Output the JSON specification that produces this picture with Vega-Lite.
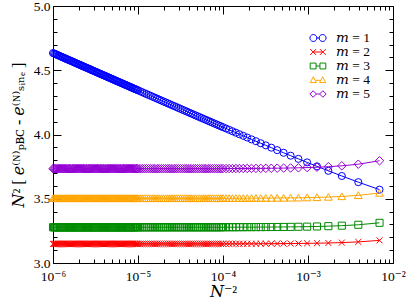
{
"$schema": "https://vega.github.io/schema/vega-lite/v6.json",
"width": 340, "height": 257,
"autosize": {"type": "none"},
"padding": {"left": 53, "top": 6, "right": 14, "bottom": 45},
"background": "white",
"config": {
 "view": {"stroke": "black", "strokeWidth": 1},
 "font": "Liberation Serif, DejaVu Serif, serif",
 "axis": {"grid": false, "domain": false, "tickColor": "black", "tickWidth": 1, "labelColor": "black", "titleColor": "black", "labelFont": "Liberation Serif, DejaVu Serif, serif", "titleFont": "Liberation Serif, DejaVu Serif, serif", "labelFontSize": 13.5, "titleFontSize": 16, "titleFontWeight": "normal", "labelFlush": false, "labelOverlap": false}
},
"datasets": {"pts": [
{"m":"m = 1","x":0.0069444,"y":3.5709},{"m":"m = 1","x":0.0039063,"y":3.6292},{"m":"m = 1","x":0.0025,"y":3.677},{"m":"m = 1","x":0.0017361,"y":3.7174},{"m":"m = 1","x":0.0012755,"y":3.7523},{"m":"m = 1","x":0.00097656,"y":3.783},{"m":"m = 1","x":0.0007716,"y":3.8104},{"m":"m = 1","x":0.000625,"y":3.8351},{"m":"m = 1","x":0.00051653,"y":3.8577},{"m":"m = 1","x":0.00043403,"y":3.8784},{"m":"m = 1","x":0.00036982,"y":3.8976},{"m":"m = 1","x":0.00031888,"y":3.9154},{"m":"m = 1","x":0.00027778,"y":3.932},{"m":"m = 1","x":0.00024414,"y":3.9477},{"m":"m = 1","x":0.00021626,"y":3.9624},{"m":"m = 1","x":0.0001929,"y":3.9763},{"m":"m = 1","x":0.00017313,"y":3.9895},{"m":"m = 1","x":0.00015625,"y":4.002},{"m":"m = 1","x":0.00014172,"y":4.014},{"m":"m = 1","x":0.00012913,"y":4.0254},{"m":"m = 1","x":0.00011815,"y":4.0363},{"m":"m = 1","x":0.00010851,"y":4.0467},{"m":"m = 1","x":0.0001,"y":4.0568},
{"m":"m = 1","x":9.4406e-5,"y":4.0639},{"m":"m = 1","x":8.9125e-5,"y":4.071},{"m":"m = 1","x":8.414e-5,"y":4.0781},{"m":"m = 1","x":7.9433e-5,"y":4.0852},{"m":"m = 1","x":7.4989e-5,"y":4.0923},{"m":"m = 1","x":7.0795e-5,"y":4.0994},{"m":"m = 1","x":6.6834e-5,"y":4.1066},{"m":"m = 1","x":6.3096e-5,"y":4.1137},{"m":"m = 1","x":5.9566e-5,"y":4.1208},{"m":"m = 1","x":5.6234e-5,"y":4.128},{"m":"m = 1","x":5.3088e-5,"y":4.1351},{"m":"m = 1","x":5.0119e-5,"y":4.1423},{"m":"m = 1","x":4.7315e-5,"y":4.1494},{"m":"m = 1","x":4.4668e-5,"y":4.1566},{"m":"m = 1","x":4.217e-5,"y":4.1637},{"m":"m = 1","x":3.9811e-5,"y":4.1709},{"m":"m = 1","x":3.7584e-5,"y":4.1781},{"m":"m = 1","x":3.5481e-5,"y":4.1852},{"m":"m = 1","x":3.3497e-5,"y":4.1924},{"m":"m = 1","x":3.1623e-5,"y":4.1996},{"m":"m = 1","x":2.9854e-5,"y":4.2068},{"m":"m = 1","x":2.8184e-5,"y":4.214},{"m":"m = 1","x":2.6607e-5,"y":4.2211},{"m":"m = 1","x":2.5119e-5,"y":4.2283},{"m":"m = 1","x":2.3714e-5,"y":4.2355},{"m":"m = 1","x":2.2387e-5,"y":4.2427},{"m":"m = 1","x":2.1135e-5,"y":4.2499},{"m":"m = 1","x":1.9953e-5,"y":4.2571},{"m":"m = 1","x":1.8836e-5,"y":4.2643},{"m":"m = 1","x":1.7783e-5,"y":4.2715},{"m":"m = 1","x":1.6788e-5,"y":4.2787},{"m":"m = 1","x":1.5849e-5,"y":4.2859},{"m":"m = 1","x":1.4962e-5,"y":4.2931},{"m":"m = 1","x":1.4125e-5,"y":4.3004},{"m":"m = 1","x":1.3335e-5,"y":4.3076},{"m":"m = 1","x":1.2589e-5,"y":4.3148},{"m":"m = 1","x":1.1885e-5,"y":4.322},{"m":"m = 1","x":1.122e-5,"y":4.3292},{"m":"m = 1","x":1.0593e-5,"y":4.3365},
{"m":"m = 1","x":1e-5,"y":4.3438},{"m":"m = 1","x":9.7163e-6,"y":4.3474},{"m":"m = 1","x":9.4406e-6,"y":4.351},{"m":"m = 1","x":9.1728e-6,"y":4.3546},{"m":"m = 1","x":8.9125e-6,"y":4.3582},{"m":"m = 1","x":8.6597e-6,"y":4.3618},{"m":"m = 1","x":8.414e-6,"y":4.3654},{"m":"m = 1","x":8.1753e-6,"y":4.3691},{"m":"m = 1","x":7.9433e-6,"y":4.3727},{"m":"m = 1","x":7.7179e-6,"y":4.3763},{"m":"m = 1","x":7.4989e-6,"y":4.3799},{"m":"m = 1","x":7.2862e-6,"y":4.3835},{"m":"m = 1","x":7.0795e-6,"y":4.3871},{"m":"m = 1","x":6.8786e-6,"y":4.3908},{"m":"m = 1","x":6.6834e-6,"y":4.3944},{"m":"m = 1","x":6.4938e-6,"y":4.398},{"m":"m = 1","x":6.3096e-6,"y":4.4016},{"m":"m = 1","x":6.1305e-6,"y":4.4052},{"m":"m = 1","x":5.9566e-6,"y":4.4089},{"m":"m = 1","x":5.7876e-6,"y":4.4125},{"m":"m = 1","x":5.6234e-6,"y":4.4161},{"m":"m = 1","x":5.4638e-6,"y":4.4197},{"m":"m = 1","x":5.3088e-6,"y":4.4234},{"m":"m = 1","x":5.1582e-6,"y":4.427},{"m":"m = 1","x":5.0119e-6,"y":4.4306},{"m":"m = 1","x":4.8697e-6,"y":4.4342},{"m":"m = 1","x":4.7315e-6,"y":4.4379},{"m":"m = 1","x":4.5972e-6,"y":4.4415},{"m":"m = 1","x":4.4668e-6,"y":4.4451},{"m":"m = 1","x":4.3401e-6,"y":4.4487},{"m":"m = 1","x":4.217e-6,"y":4.4524},{"m":"m = 1","x":4.0973e-6,"y":4.456},{"m":"m = 1","x":3.9811e-6,"y":4.4596},{"m":"m = 1","x":3.8681e-6,"y":4.4632},{"m":"m = 1","x":3.7584e-6,"y":4.4669},{"m":"m = 1","x":3.6517e-6,"y":4.4705},{"m":"m = 1","x":3.5481e-6,"y":4.4741},{"m":"m = 1","x":3.4475e-6,"y":4.4777},{"m":"m = 1","x":3.3497e-6,"y":4.4814},{"m":"m = 1","x":3.2546e-6,"y":4.485},{"m":"m = 1","x":3.1623e-6,"y":4.4886},{"m":"m = 1","x":3.0726e-6,"y":4.4922},{"m":"m = 1","x":2.9854e-6,"y":4.4959},{"m":"m = 1","x":2.9007e-6,"y":4.4995},{"m":"m = 1","x":2.8184e-6,"y":4.5031},{"m":"m = 1","x":2.7384e-6,"y":4.5068},{"m":"m = 1","x":2.6607e-6,"y":4.5104},{"m":"m = 1","x":2.5852e-6,"y":4.514},{"m":"m = 1","x":2.5119e-6,"y":4.5176},{"m":"m = 1","x":2.4406e-6,"y":4.5213},{"m":"m = 1","x":2.3714e-6,"y":4.5249},{"m":"m = 1","x":2.3041e-6,"y":4.5285},{"m":"m = 1","x":2.2387e-6,"y":4.5322},{"m":"m = 1","x":2.1752e-6,"y":4.5358},{"m":"m = 1","x":2.1135e-6,"y":4.5394},{"m":"m = 1","x":2.0535e-6,"y":4.5431},{"m":"m = 1","x":1.9953e-6,"y":4.5467},{"m":"m = 1","x":1.9386e-6,"y":4.5503},{"m":"m = 1","x":1.8836e-6,"y":4.554},{"m":"m = 1","x":1.8302e-6,"y":4.5576},{"m":"m = 1","x":1.7783e-6,"y":4.5612},{"m":"m = 1","x":1.7278e-6,"y":4.5649},{"m":"m = 1","x":1.6788e-6,"y":4.5685},{"m":"m = 1","x":1.6312e-6,"y":4.5721},{"m":"m = 1","x":1.5849e-6,"y":4.5758},{"m":"m = 1","x":1.5399e-6,"y":4.5794},{"m":"m = 1","x":1.4962e-6,"y":4.583},{"m":"m = 1","x":1.4538e-6,"y":4.5867},{"m":"m = 1","x":1.4125e-6,"y":4.5903},{"m":"m = 1","x":1.3725e-6,"y":4.5939},{"m":"m = 1","x":1.3335e-6,"y":4.5976},{"m":"m = 1","x":1.2957e-6,"y":4.6012},{"m":"m = 1","x":1.2589e-6,"y":4.6048},{"m":"m = 1","x":1.2232e-6,"y":4.6085},{"m":"m = 1","x":1.1885e-6,"y":4.6121},{"m":"m = 1","x":1.1548e-6,"y":4.6157},{"m":"m = 1","x":1.122e-6,"y":4.6194},{"m":"m = 1","x":1.0902e-6,"y":4.623},{"m":"m = 1","x":1.0593e-6,"y":4.6266},{"m":"m = 1","x":1.0292e-6,"y":4.6303},{"m":"m = 1","x":1e-6,"y":4.6339},
{"m":"m = 2","x":0.0069444,"y":3.1761},{"m":"m = 2","x":0.0039063,"y":3.1642},{"m":"m = 2","x":0.0025,"y":3.1588},{"m":"m = 2","x":0.0017361,"y":3.1558},{"m":"m = 2","x":0.0012755,"y":3.154},{"m":"m = 2","x":0.00097656,"y":3.1528},{"m":"m = 2","x":0.0007716,"y":3.152},{"m":"m = 2","x":0.000625,"y":3.1514},{"m":"m = 2","x":0.00051653,"y":3.151},{"m":"m = 2","x":0.00043403,"y":3.1507},{"m":"m = 2","x":0.00036982,"y":3.1504},{"m":"m = 2","x":0.00031888,"y":3.1502},{"m":"m = 2","x":0.00027778,"y":3.1501},{"m":"m = 2","x":0.00024414,"y":3.15},{"m":"m = 2","x":0.00021626,"y":3.1498},{"m":"m = 2","x":0.0001929,"y":3.1498},{"m":"m = 2","x":0.00017313,"y":3.1497},{"m":"m = 2","x":0.00015625,"y":3.1496},{"m":"m = 2","x":0.00014172,"y":3.1496},{"m":"m = 2","x":0.00012913,"y":3.1495},{"m":"m = 2","x":0.00011815,"y":3.1495},{"m":"m = 2","x":0.00010851,"y":3.1494},{"m":"m = 2","x":0.0001,"y":3.1494},
{"m":"m = 2","x":9.4406e-5,"y":3.149},{"m":"m = 2","x":8.9125e-5,"y":3.149},{"m":"m = 2","x":8.414e-5,"y":3.149},{"m":"m = 2","x":7.9433e-5,"y":3.149},{"m":"m = 2","x":7.4989e-5,"y":3.149},{"m":"m = 2","x":7.0795e-5,"y":3.149},{"m":"m = 2","x":6.6834e-5,"y":3.149},{"m":"m = 2","x":6.3096e-5,"y":3.149},{"m":"m = 2","x":5.9566e-5,"y":3.149},{"m":"m = 2","x":5.6234e-5,"y":3.149},{"m":"m = 2","x":5.3088e-5,"y":3.149},{"m":"m = 2","x":5.0119e-5,"y":3.149},{"m":"m = 2","x":4.7315e-5,"y":3.149},{"m":"m = 2","x":4.4668e-5,"y":3.149},{"m":"m = 2","x":4.217e-5,"y":3.149},{"m":"m = 2","x":3.9811e-5,"y":3.149},{"m":"m = 2","x":3.7584e-5,"y":3.149},{"m":"m = 2","x":3.5481e-5,"y":3.149},{"m":"m = 2","x":3.3497e-5,"y":3.149},{"m":"m = 2","x":3.1623e-5,"y":3.149},{"m":"m = 2","x":2.9854e-5,"y":3.149},{"m":"m = 2","x":2.8184e-5,"y":3.149},{"m":"m = 2","x":2.6607e-5,"y":3.149},{"m":"m = 2","x":2.5119e-5,"y":3.149},{"m":"m = 2","x":2.3714e-5,"y":3.149},{"m":"m = 2","x":2.2387e-5,"y":3.149},{"m":"m = 2","x":2.1135e-5,"y":3.149},{"m":"m = 2","x":1.9953e-5,"y":3.149},{"m":"m = 2","x":1.8836e-5,"y":3.149},{"m":"m = 2","x":1.7783e-5,"y":3.149},{"m":"m = 2","x":1.6788e-5,"y":3.149},{"m":"m = 2","x":1.5849e-5,"y":3.149},{"m":"m = 2","x":1.4962e-5,"y":3.149},{"m":"m = 2","x":1.4125e-5,"y":3.149},{"m":"m = 2","x":1.3335e-5,"y":3.149},{"m":"m = 2","x":1.2589e-5,"y":3.149},{"m":"m = 2","x":1.1885e-5,"y":3.149},{"m":"m = 2","x":1.122e-5,"y":3.149},{"m":"m = 2","x":1.0593e-5,"y":3.149},
{"m":"m = 2","x":1e-5,"y":3.149},{"m":"m = 2","x":9.7163e-6,"y":3.149},{"m":"m = 2","x":9.4406e-6,"y":3.149},{"m":"m = 2","x":9.1728e-6,"y":3.149},{"m":"m = 2","x":8.9125e-6,"y":3.149},{"m":"m = 2","x":8.6597e-6,"y":3.149},{"m":"m = 2","x":8.414e-6,"y":3.149},{"m":"m = 2","x":8.1753e-6,"y":3.149},{"m":"m = 2","x":7.9433e-6,"y":3.149},{"m":"m = 2","x":7.7179e-6,"y":3.149},{"m":"m = 2","x":7.4989e-6,"y":3.149},{"m":"m = 2","x":7.2862e-6,"y":3.149},{"m":"m = 2","x":7.0795e-6,"y":3.149},{"m":"m = 2","x":6.8786e-6,"y":3.149},{"m":"m = 2","x":6.6834e-6,"y":3.149},{"m":"m = 2","x":6.4938e-6,"y":3.149},{"m":"m = 2","x":6.3096e-6,"y":3.149},{"m":"m = 2","x":6.1305e-6,"y":3.149},{"m":"m = 2","x":5.9566e-6,"y":3.149},{"m":"m = 2","x":5.7876e-6,"y":3.149},{"m":"m = 2","x":5.6234e-6,"y":3.149},{"m":"m = 2","x":5.4638e-6,"y":3.149},{"m":"m = 2","x":5.3088e-6,"y":3.149},{"m":"m = 2","x":5.1582e-6,"y":3.149},{"m":"m = 2","x":5.0119e-6,"y":3.149},{"m":"m = 2","x":4.8697e-6,"y":3.149},{"m":"m = 2","x":4.7315e-6,"y":3.149},{"m":"m = 2","x":4.5972e-6,"y":3.149},{"m":"m = 2","x":4.4668e-6,"y":3.149},{"m":"m = 2","x":4.3401e-6,"y":3.149},{"m":"m = 2","x":4.217e-6,"y":3.149},{"m":"m = 2","x":4.0973e-6,"y":3.149},{"m":"m = 2","x":3.9811e-6,"y":3.149},{"m":"m = 2","x":3.8681e-6,"y":3.149},{"m":"m = 2","x":3.7584e-6,"y":3.149},{"m":"m = 2","x":3.6517e-6,"y":3.149},{"m":"m = 2","x":3.5481e-6,"y":3.149},{"m":"m = 2","x":3.4475e-6,"y":3.149},{"m":"m = 2","x":3.3497e-6,"y":3.149},{"m":"m = 2","x":3.2546e-6,"y":3.149},{"m":"m = 2","x":3.1623e-6,"y":3.149},{"m":"m = 2","x":3.0726e-6,"y":3.149},{"m":"m = 2","x":2.9854e-6,"y":3.149},{"m":"m = 2","x":2.9007e-6,"y":3.149},{"m":"m = 2","x":2.8184e-6,"y":3.149},{"m":"m = 2","x":2.7384e-6,"y":3.149},{"m":"m = 2","x":2.6607e-6,"y":3.149},{"m":"m = 2","x":2.5852e-6,"y":3.149},{"m":"m = 2","x":2.5119e-6,"y":3.149},{"m":"m = 2","x":2.4406e-6,"y":3.149},{"m":"m = 2","x":2.3714e-6,"y":3.149},{"m":"m = 2","x":2.3041e-6,"y":3.149},{"m":"m = 2","x":2.2387e-6,"y":3.149},{"m":"m = 2","x":2.1752e-6,"y":3.149},{"m":"m = 2","x":2.1135e-6,"y":3.149},{"m":"m = 2","x":2.0535e-6,"y":3.149},{"m":"m = 2","x":1.9953e-6,"y":3.149},{"m":"m = 2","x":1.9386e-6,"y":3.149},{"m":"m = 2","x":1.8836e-6,"y":3.149},{"m":"m = 2","x":1.8302e-6,"y":3.149},{"m":"m = 2","x":1.7783e-6,"y":3.149},{"m":"m = 2","x":1.7278e-6,"y":3.149},{"m":"m = 2","x":1.6788e-6,"y":3.149},{"m":"m = 2","x":1.6312e-6,"y":3.149},{"m":"m = 2","x":1.5849e-6,"y":3.149},{"m":"m = 2","x":1.5399e-6,"y":3.149},{"m":"m = 2","x":1.4962e-6,"y":3.149},{"m":"m = 2","x":1.4538e-6,"y":3.149},{"m":"m = 2","x":1.4125e-6,"y":3.149},{"m":"m = 2","x":1.3725e-6,"y":3.149},{"m":"m = 2","x":1.3335e-6,"y":3.149},{"m":"m = 2","x":1.2957e-6,"y":3.149},{"m":"m = 2","x":1.2589e-6,"y":3.149},{"m":"m = 2","x":1.2232e-6,"y":3.149},{"m":"m = 2","x":1.1885e-6,"y":3.149},{"m":"m = 2","x":1.1548e-6,"y":3.149},{"m":"m = 2","x":1.122e-6,"y":3.149},{"m":"m = 2","x":1.0902e-6,"y":3.149},{"m":"m = 2","x":1.0593e-6,"y":3.149},{"m":"m = 2","x":1.0292e-6,"y":3.149},{"m":"m = 2","x":1e-6,"y":3.149},
{"m":"m = 3","x":0.0069444,"y":3.3127},{"m":"m = 3","x":0.0039063,"y":3.2975},{"m":"m = 3","x":0.0025,"y":3.2905},{"m":"m = 3","x":0.0017361,"y":3.2867},{"m":"m = 3","x":0.0012755,"y":3.2844},{"m":"m = 3","x":0.00097656,"y":3.2829},{"m":"m = 3","x":0.0007716,"y":3.2819},{"m":"m = 3","x":0.000625,"y":3.2811},{"m":"m = 3","x":0.00051653,"y":3.2806},{"m":"m = 3","x":0.00043403,"y":3.2802},{"m":"m = 3","x":0.00036982,"y":3.2799},{"m":"m = 3","x":0.00031888,"y":3.2796},{"m":"m = 3","x":0.00027778,"y":3.2794},{"m":"m = 3","x":0.00024414,"y":3.2792},{"m":"m = 3","x":0.00021626,"y":3.2791},{"m":"m = 3","x":0.0001929,"y":3.279},{"m":"m = 3","x":0.00017313,"y":3.2789},{"m":"m = 3","x":0.00015625,"y":3.2788},{"m":"m = 3","x":0.00014172,"y":3.2787},{"m":"m = 3","x":0.00012913,"y":3.2786},{"m":"m = 3","x":0.00011815,"y":3.2786},{"m":"m = 3","x":0.00010851,"y":3.2785},{"m":"m = 3","x":0.0001,"y":3.2785},
{"m":"m = 3","x":9.4406e-5,"y":3.278},{"m":"m = 3","x":8.9125e-5,"y":3.278},{"m":"m = 3","x":8.414e-5,"y":3.278},{"m":"m = 3","x":7.9433e-5,"y":3.278},{"m":"m = 3","x":7.4989e-5,"y":3.278},{"m":"m = 3","x":7.0795e-5,"y":3.278},{"m":"m = 3","x":6.6834e-5,"y":3.278},{"m":"m = 3","x":6.3096e-5,"y":3.278},{"m":"m = 3","x":5.9566e-5,"y":3.278},{"m":"m = 3","x":5.6234e-5,"y":3.278},{"m":"m = 3","x":5.3088e-5,"y":3.278},{"m":"m = 3","x":5.0119e-5,"y":3.278},{"m":"m = 3","x":4.7315e-5,"y":3.278},{"m":"m = 3","x":4.4668e-5,"y":3.278},{"m":"m = 3","x":4.217e-5,"y":3.278},{"m":"m = 3","x":3.9811e-5,"y":3.278},{"m":"m = 3","x":3.7584e-5,"y":3.278},{"m":"m = 3","x":3.5481e-5,"y":3.278},{"m":"m = 3","x":3.3497e-5,"y":3.278},{"m":"m = 3","x":3.1623e-5,"y":3.278},{"m":"m = 3","x":2.9854e-5,"y":3.278},{"m":"m = 3","x":2.8184e-5,"y":3.278},{"m":"m = 3","x":2.6607e-5,"y":3.278},{"m":"m = 3","x":2.5119e-5,"y":3.278},{"m":"m = 3","x":2.3714e-5,"y":3.278},{"m":"m = 3","x":2.2387e-5,"y":3.278},{"m":"m = 3","x":2.1135e-5,"y":3.278},{"m":"m = 3","x":1.9953e-5,"y":3.278},{"m":"m = 3","x":1.8836e-5,"y":3.278},{"m":"m = 3","x":1.7783e-5,"y":3.278},{"m":"m = 3","x":1.6788e-5,"y":3.278},{"m":"m = 3","x":1.5849e-5,"y":3.278},{"m":"m = 3","x":1.4962e-5,"y":3.278},{"m":"m = 3","x":1.4125e-5,"y":3.278},{"m":"m = 3","x":1.3335e-5,"y":3.278},{"m":"m = 3","x":1.2589e-5,"y":3.278},{"m":"m = 3","x":1.1885e-5,"y":3.278},{"m":"m = 3","x":1.122e-5,"y":3.278},{"m":"m = 3","x":1.0593e-5,"y":3.278},
{"m":"m = 3","x":1e-5,"y":3.278},{"m":"m = 3","x":9.7163e-6,"y":3.278},{"m":"m = 3","x":9.4406e-6,"y":3.278},{"m":"m = 3","x":9.1728e-6,"y":3.278},{"m":"m = 3","x":8.9125e-6,"y":3.278},{"m":"m = 3","x":8.6597e-6,"y":3.278},{"m":"m = 3","x":8.414e-6,"y":3.278},{"m":"m = 3","x":8.1753e-6,"y":3.278},{"m":"m = 3","x":7.9433e-6,"y":3.278},{"m":"m = 3","x":7.7179e-6,"y":3.278},{"m":"m = 3","x":7.4989e-6,"y":3.278},{"m":"m = 3","x":7.2862e-6,"y":3.278},{"m":"m = 3","x":7.0795e-6,"y":3.278},{"m":"m = 3","x":6.8786e-6,"y":3.278},{"m":"m = 3","x":6.6834e-6,"y":3.278},{"m":"m = 3","x":6.4938e-6,"y":3.278},{"m":"m = 3","x":6.3096e-6,"y":3.278},{"m":"m = 3","x":6.1305e-6,"y":3.278},{"m":"m = 3","x":5.9566e-6,"y":3.278},{"m":"m = 3","x":5.7876e-6,"y":3.278},{"m":"m = 3","x":5.6234e-6,"y":3.278},{"m":"m = 3","x":5.4638e-6,"y":3.278},{"m":"m = 3","x":5.3088e-6,"y":3.278},{"m":"m = 3","x":5.1582e-6,"y":3.278},{"m":"m = 3","x":5.0119e-6,"y":3.278},{"m":"m = 3","x":4.8697e-6,"y":3.278},{"m":"m = 3","x":4.7315e-6,"y":3.278},{"m":"m = 3","x":4.5972e-6,"y":3.278},{"m":"m = 3","x":4.4668e-6,"y":3.278},{"m":"m = 3","x":4.3401e-6,"y":3.278},{"m":"m = 3","x":4.217e-6,"y":3.278},{"m":"m = 3","x":4.0973e-6,"y":3.278},{"m":"m = 3","x":3.9811e-6,"y":3.278},{"m":"m = 3","x":3.8681e-6,"y":3.278},{"m":"m = 3","x":3.7584e-6,"y":3.278},{"m":"m = 3","x":3.6517e-6,"y":3.278},{"m":"m = 3","x":3.5481e-6,"y":3.278},{"m":"m = 3","x":3.4475e-6,"y":3.278},{"m":"m = 3","x":3.3497e-6,"y":3.278},{"m":"m = 3","x":3.2546e-6,"y":3.278},{"m":"m = 3","x":3.1623e-6,"y":3.278},{"m":"m = 3","x":3.0726e-6,"y":3.278},{"m":"m = 3","x":2.9854e-6,"y":3.278},{"m":"m = 3","x":2.9007e-6,"y":3.278},{"m":"m = 3","x":2.8184e-6,"y":3.278},{"m":"m = 3","x":2.7384e-6,"y":3.278},{"m":"m = 3","x":2.6607e-6,"y":3.278},{"m":"m = 3","x":2.5852e-6,"y":3.278},{"m":"m = 3","x":2.5119e-6,"y":3.278},{"m":"m = 3","x":2.4406e-6,"y":3.278},{"m":"m = 3","x":2.3714e-6,"y":3.278},{"m":"m = 3","x":2.3041e-6,"y":3.278},{"m":"m = 3","x":2.2387e-6,"y":3.278},{"m":"m = 3","x":2.1752e-6,"y":3.278},{"m":"m = 3","x":2.1135e-6,"y":3.278},{"m":"m = 3","x":2.0535e-6,"y":3.278},{"m":"m = 3","x":1.9953e-6,"y":3.278},{"m":"m = 3","x":1.9386e-6,"y":3.278},{"m":"m = 3","x":1.8836e-6,"y":3.278},{"m":"m = 3","x":1.8302e-6,"y":3.278},{"m":"m = 3","x":1.7783e-6,"y":3.278},{"m":"m = 3","x":1.7278e-6,"y":3.278},{"m":"m = 3","x":1.6788e-6,"y":3.278},{"m":"m = 3","x":1.6312e-6,"y":3.278},{"m":"m = 3","x":1.5849e-6,"y":3.278},{"m":"m = 3","x":1.5399e-6,"y":3.278},{"m":"m = 3","x":1.4962e-6,"y":3.278},{"m":"m = 3","x":1.4538e-6,"y":3.278},{"m":"m = 3","x":1.4125e-6,"y":3.278},{"m":"m = 3","x":1.3725e-6,"y":3.278},{"m":"m = 3","x":1.3335e-6,"y":3.278},{"m":"m = 3","x":1.2957e-6,"y":3.278},{"m":"m = 3","x":1.2589e-6,"y":3.278},{"m":"m = 3","x":1.2232e-6,"y":3.278},{"m":"m = 3","x":1.1885e-6,"y":3.278},{"m":"m = 3","x":1.1548e-6,"y":3.278},{"m":"m = 3","x":1.122e-6,"y":3.278},{"m":"m = 3","x":1.0902e-6,"y":3.278},{"m":"m = 3","x":1.0593e-6,"y":3.278},{"m":"m = 3","x":1.0292e-6,"y":3.278},{"m":"m = 3","x":1e-6,"y":3.278},
{"m":"m = 4","x":0.0069444,"y":3.5447},{"m":"m = 4","x":0.0039063,"y":3.5264},{"m":"m = 4","x":0.0025,"y":3.518},{"m":"m = 4","x":0.0017361,"y":3.5134},{"m":"m = 4","x":0.0012755,"y":3.5107},{"m":"m = 4","x":0.00097656,"y":3.5089},{"m":"m = 4","x":0.0007716,"y":3.5076},{"m":"m = 4","x":0.000625,"y":3.5068},{"m":"m = 4","x":0.00051653,"y":3.5061},{"m":"m = 4","x":0.00043403,"y":3.5056},{"m":"m = 4","x":0.00036982,"y":3.5052},{"m":"m = 4","x":0.00031888,"y":3.5049},{"m":"m = 4","x":0.00027778,"y":3.5047},{"m":"m = 4","x":0.00024414,"y":3.5045},{"m":"m = 4","x":0.00021626,"y":3.5043},{"m":"m = 4","x":0.0001929,"y":3.5042},{"m":"m = 4","x":0.00017313,"y":3.504},{"m":"m = 4","x":0.00015625,"y":3.5039},{"m":"m = 4","x":0.00014172,"y":3.5039},{"m":"m = 4","x":0.00012913,"y":3.5038},{"m":"m = 4","x":0.00011815,"y":3.5037},{"m":"m = 4","x":0.00010851,"y":3.5037},{"m":"m = 4","x":0.0001,"y":3.5036},
{"m":"m = 4","x":9.4406e-5,"y":3.503},{"m":"m = 4","x":8.9125e-5,"y":3.503},{"m":"m = 4","x":8.414e-5,"y":3.503},{"m":"m = 4","x":7.9433e-5,"y":3.503},{"m":"m = 4","x":7.4989e-5,"y":3.503},{"m":"m = 4","x":7.0795e-5,"y":3.503},{"m":"m = 4","x":6.6834e-5,"y":3.503},{"m":"m = 4","x":6.3096e-5,"y":3.503},{"m":"m = 4","x":5.9566e-5,"y":3.503},{"m":"m = 4","x":5.6234e-5,"y":3.503},{"m":"m = 4","x":5.3088e-5,"y":3.503},{"m":"m = 4","x":5.0119e-5,"y":3.503},{"m":"m = 4","x":4.7315e-5,"y":3.503},{"m":"m = 4","x":4.4668e-5,"y":3.503},{"m":"m = 4","x":4.217e-5,"y":3.503},{"m":"m = 4","x":3.9811e-5,"y":3.503},{"m":"m = 4","x":3.7584e-5,"y":3.503},{"m":"m = 4","x":3.5481e-5,"y":3.503},{"m":"m = 4","x":3.3497e-5,"y":3.503},{"m":"m = 4","x":3.1623e-5,"y":3.503},{"m":"m = 4","x":2.9854e-5,"y":3.503},{"m":"m = 4","x":2.8184e-5,"y":3.503},{"m":"m = 4","x":2.6607e-5,"y":3.503},{"m":"m = 4","x":2.5119e-5,"y":3.503},{"m":"m = 4","x":2.3714e-5,"y":3.503},{"m":"m = 4","x":2.2387e-5,"y":3.503},{"m":"m = 4","x":2.1135e-5,"y":3.503},{"m":"m = 4","x":1.9953e-5,"y":3.503},{"m":"m = 4","x":1.8836e-5,"y":3.503},{"m":"m = 4","x":1.7783e-5,"y":3.503},{"m":"m = 4","x":1.6788e-5,"y":3.503},{"m":"m = 4","x":1.5849e-5,"y":3.503},{"m":"m = 4","x":1.4962e-5,"y":3.503},{"m":"m = 4","x":1.4125e-5,"y":3.503},{"m":"m = 4","x":1.3335e-5,"y":3.503},{"m":"m = 4","x":1.2589e-5,"y":3.503},{"m":"m = 4","x":1.1885e-5,"y":3.503},{"m":"m = 4","x":1.122e-5,"y":3.503},{"m":"m = 4","x":1.0593e-5,"y":3.503},
{"m":"m = 4","x":1e-5,"y":3.503},{"m":"m = 4","x":9.7163e-6,"y":3.503},{"m":"m = 4","x":9.4406e-6,"y":3.503},{"m":"m = 4","x":9.1728e-6,"y":3.503},{"m":"m = 4","x":8.9125e-6,"y":3.503},{"m":"m = 4","x":8.6597e-6,"y":3.503},{"m":"m = 4","x":8.414e-6,"y":3.503},{"m":"m = 4","x":8.1753e-6,"y":3.503},{"m":"m = 4","x":7.9433e-6,"y":3.503},{"m":"m = 4","x":7.7179e-6,"y":3.503},{"m":"m = 4","x":7.4989e-6,"y":3.503},{"m":"m = 4","x":7.2862e-6,"y":3.503},{"m":"m = 4","x":7.0795e-6,"y":3.503},{"m":"m = 4","x":6.8786e-6,"y":3.503},{"m":"m = 4","x":6.6834e-6,"y":3.503},{"m":"m = 4","x":6.4938e-6,"y":3.503},{"m":"m = 4","x":6.3096e-6,"y":3.503},{"m":"m = 4","x":6.1305e-6,"y":3.503},{"m":"m = 4","x":5.9566e-6,"y":3.503},{"m":"m = 4","x":5.7876e-6,"y":3.503},{"m":"m = 4","x":5.6234e-6,"y":3.503},{"m":"m = 4","x":5.4638e-6,"y":3.503},{"m":"m = 4","x":5.3088e-6,"y":3.503},{"m":"m = 4","x":5.1582e-6,"y":3.503},{"m":"m = 4","x":5.0119e-6,"y":3.503},{"m":"m = 4","x":4.8697e-6,"y":3.503},{"m":"m = 4","x":4.7315e-6,"y":3.503},{"m":"m = 4","x":4.5972e-6,"y":3.503},{"m":"m = 4","x":4.4668e-6,"y":3.503},{"m":"m = 4","x":4.3401e-6,"y":3.503},{"m":"m = 4","x":4.217e-6,"y":3.503},{"m":"m = 4","x":4.0973e-6,"y":3.503},{"m":"m = 4","x":3.9811e-6,"y":3.503},{"m":"m = 4","x":3.8681e-6,"y":3.503},{"m":"m = 4","x":3.7584e-6,"y":3.503},{"m":"m = 4","x":3.6517e-6,"y":3.503},{"m":"m = 4","x":3.5481e-6,"y":3.503},{"m":"m = 4","x":3.4475e-6,"y":3.503},{"m":"m = 4","x":3.3497e-6,"y":3.503},{"m":"m = 4","x":3.2546e-6,"y":3.503},{"m":"m = 4","x":3.1623e-6,"y":3.503},{"m":"m = 4","x":3.0726e-6,"y":3.503},{"m":"m = 4","x":2.9854e-6,"y":3.503},{"m":"m = 4","x":2.9007e-6,"y":3.503},{"m":"m = 4","x":2.8184e-6,"y":3.503},{"m":"m = 4","x":2.7384e-6,"y":3.503},{"m":"m = 4","x":2.6607e-6,"y":3.503},{"m":"m = 4","x":2.5852e-6,"y":3.503},{"m":"m = 4","x":2.5119e-6,"y":3.503},{"m":"m = 4","x":2.4406e-6,"y":3.503},{"m":"m = 4","x":2.3714e-6,"y":3.503},{"m":"m = 4","x":2.3041e-6,"y":3.503},{"m":"m = 4","x":2.2387e-6,"y":3.503},{"m":"m = 4","x":2.1752e-6,"y":3.503},{"m":"m = 4","x":2.1135e-6,"y":3.503},{"m":"m = 4","x":2.0535e-6,"y":3.503},{"m":"m = 4","x":1.9953e-6,"y":3.503},{"m":"m = 4","x":1.9386e-6,"y":3.503},{"m":"m = 4","x":1.8836e-6,"y":3.503},{"m":"m = 4","x":1.8302e-6,"y":3.503},{"m":"m = 4","x":1.7783e-6,"y":3.503},{"m":"m = 4","x":1.7278e-6,"y":3.503},{"m":"m = 4","x":1.6788e-6,"y":3.503},{"m":"m = 4","x":1.6312e-6,"y":3.503},{"m":"m = 4","x":1.5849e-6,"y":3.503},{"m":"m = 4","x":1.5399e-6,"y":3.503},{"m":"m = 4","x":1.4962e-6,"y":3.503},{"m":"m = 4","x":1.4538e-6,"y":3.503},{"m":"m = 4","x":1.4125e-6,"y":3.503},{"m":"m = 4","x":1.3725e-6,"y":3.503},{"m":"m = 4","x":1.3335e-6,"y":3.503},{"m":"m = 4","x":1.2957e-6,"y":3.503},{"m":"m = 4","x":1.2589e-6,"y":3.503},{"m":"m = 4","x":1.2232e-6,"y":3.503},{"m":"m = 4","x":1.1885e-6,"y":3.503},{"m":"m = 4","x":1.1548e-6,"y":3.503},{"m":"m = 4","x":1.122e-6,"y":3.503},{"m":"m = 4","x":1.0902e-6,"y":3.503},{"m":"m = 4","x":1.0593e-6,"y":3.503},{"m":"m = 4","x":1.0292e-6,"y":3.503},{"m":"m = 4","x":1e-6,"y":3.503},
{"m":"m = 5","x":0.0069444,"y":3.7958},{"m":"m = 5","x":0.0039063,"y":3.7688},{"m":"m = 5","x":0.0025,"y":3.7563},{"m":"m = 5","x":0.0017361,"y":3.7495},{"m":"m = 5","x":0.0012755,"y":3.7454},{"m":"m = 5","x":0.00097656,"y":3.7427},{"m":"m = 5","x":0.0007716,"y":3.7409},{"m":"m = 5","x":0.000625,"y":3.7396},{"m":"m = 5","x":0.00051653,"y":3.7386},{"m":"m = 5","x":0.00043403,"y":3.7379},{"m":"m = 5","x":0.00036982,"y":3.7373},{"m":"m = 5","x":0.00031888,"y":3.7368},{"m":"m = 5","x":0.00027778,"y":3.7365},{"m":"m = 5","x":0.00024414,"y":3.7362},{"m":"m = 5","x":0.00021626,"y":3.7359},{"m":"m = 5","x":0.0001929,"y":3.7357},{"m":"m = 5","x":0.00017313,"y":3.7355},{"m":"m = 5","x":0.00015625,"y":3.7354},{"m":"m = 5","x":0.00014172,"y":3.7353},{"m":"m = 5","x":0.00012913,"y":3.7351},{"m":"m = 5","x":0.00011815,"y":3.7351},{"m":"m = 5","x":0.00010851,"y":3.735},{"m":"m = 5","x":0.0001,"y":3.7349},
{"m":"m = 5","x":9.4406e-5,"y":3.734},{"m":"m = 5","x":8.9125e-5,"y":3.734},{"m":"m = 5","x":8.414e-5,"y":3.734},{"m":"m = 5","x":7.9433e-5,"y":3.734},{"m":"m = 5","x":7.4989e-5,"y":3.734},{"m":"m = 5","x":7.0795e-5,"y":3.734},{"m":"m = 5","x":6.6834e-5,"y":3.734},{"m":"m = 5","x":6.3096e-5,"y":3.734},{"m":"m = 5","x":5.9566e-5,"y":3.734},{"m":"m = 5","x":5.6234e-5,"y":3.734},{"m":"m = 5","x":5.3088e-5,"y":3.734},{"m":"m = 5","x":5.0119e-5,"y":3.734},{"m":"m = 5","x":4.7315e-5,"y":3.734},{"m":"m = 5","x":4.4668e-5,"y":3.734},{"m":"m = 5","x":4.217e-5,"y":3.734},{"m":"m = 5","x":3.9811e-5,"y":3.734},{"m":"m = 5","x":3.7584e-5,"y":3.734},{"m":"m = 5","x":3.5481e-5,"y":3.734},{"m":"m = 5","x":3.3497e-5,"y":3.734},{"m":"m = 5","x":3.1623e-5,"y":3.734},{"m":"m = 5","x":2.9854e-5,"y":3.734},{"m":"m = 5","x":2.8184e-5,"y":3.734},{"m":"m = 5","x":2.6607e-5,"y":3.734},{"m":"m = 5","x":2.5119e-5,"y":3.734},{"m":"m = 5","x":2.3714e-5,"y":3.734},{"m":"m = 5","x":2.2387e-5,"y":3.734},{"m":"m = 5","x":2.1135e-5,"y":3.734},{"m":"m = 5","x":1.9953e-5,"y":3.734},{"m":"m = 5","x":1.8836e-5,"y":3.734},{"m":"m = 5","x":1.7783e-5,"y":3.734},{"m":"m = 5","x":1.6788e-5,"y":3.734},{"m":"m = 5","x":1.5849e-5,"y":3.734},{"m":"m = 5","x":1.4962e-5,"y":3.734},{"m":"m = 5","x":1.4125e-5,"y":3.734},{"m":"m = 5","x":1.3335e-5,"y":3.734},{"m":"m = 5","x":1.2589e-5,"y":3.734},{"m":"m = 5","x":1.1885e-5,"y":3.734},{"m":"m = 5","x":1.122e-5,"y":3.734},{"m":"m = 5","x":1.0593e-5,"y":3.734},
{"m":"m = 5","x":1e-5,"y":3.734},{"m":"m = 5","x":9.7163e-6,"y":3.734},{"m":"m = 5","x":9.4406e-6,"y":3.734},{"m":"m = 5","x":9.1728e-6,"y":3.734},{"m":"m = 5","x":8.9125e-6,"y":3.734},{"m":"m = 5","x":8.6597e-6,"y":3.734},{"m":"m = 5","x":8.414e-6,"y":3.734},{"m":"m = 5","x":8.1753e-6,"y":3.734},{"m":"m = 5","x":7.9433e-6,"y":3.734},{"m":"m = 5","x":7.7179e-6,"y":3.734},{"m":"m = 5","x":7.4989e-6,"y":3.734},{"m":"m = 5","x":7.2862e-6,"y":3.734},{"m":"m = 5","x":7.0795e-6,"y":3.734},{"m":"m = 5","x":6.8786e-6,"y":3.734},{"m":"m = 5","x":6.6834e-6,"y":3.734},{"m":"m = 5","x":6.4938e-6,"y":3.734},{"m":"m = 5","x":6.3096e-6,"y":3.734},{"m":"m = 5","x":6.1305e-6,"y":3.734},{"m":"m = 5","x":5.9566e-6,"y":3.734},{"m":"m = 5","x":5.7876e-6,"y":3.734},{"m":"m = 5","x":5.6234e-6,"y":3.734},{"m":"m = 5","x":5.4638e-6,"y":3.734},{"m":"m = 5","x":5.3088e-6,"y":3.734},{"m":"m = 5","x":5.1582e-6,"y":3.734},{"m":"m = 5","x":5.0119e-6,"y":3.734},{"m":"m = 5","x":4.8697e-6,"y":3.734},{"m":"m = 5","x":4.7315e-6,"y":3.734},{"m":"m = 5","x":4.5972e-6,"y":3.734},{"m":"m = 5","x":4.4668e-6,"y":3.734},{"m":"m = 5","x":4.3401e-6,"y":3.734},{"m":"m = 5","x":4.217e-6,"y":3.734},{"m":"m = 5","x":4.0973e-6,"y":3.734},{"m":"m = 5","x":3.9811e-6,"y":3.734},{"m":"m = 5","x":3.8681e-6,"y":3.734},{"m":"m = 5","x":3.7584e-6,"y":3.734},{"m":"m = 5","x":3.6517e-6,"y":3.734},{"m":"m = 5","x":3.5481e-6,"y":3.734},{"m":"m = 5","x":3.4475e-6,"y":3.734},{"m":"m = 5","x":3.3497e-6,"y":3.734},{"m":"m = 5","x":3.2546e-6,"y":3.734},{"m":"m = 5","x":3.1623e-6,"y":3.734},{"m":"m = 5","x":3.0726e-6,"y":3.734},{"m":"m = 5","x":2.9854e-6,"y":3.734},{"m":"m = 5","x":2.9007e-6,"y":3.734},{"m":"m = 5","x":2.8184e-6,"y":3.734},{"m":"m = 5","x":2.7384e-6,"y":3.734},{"m":"m = 5","x":2.6607e-6,"y":3.734},{"m":"m = 5","x":2.5852e-6,"y":3.734},{"m":"m = 5","x":2.5119e-6,"y":3.734},{"m":"m = 5","x":2.4406e-6,"y":3.734},{"m":"m = 5","x":2.3714e-6,"y":3.734},{"m":"m = 5","x":2.3041e-6,"y":3.734},{"m":"m = 5","x":2.2387e-6,"y":3.734},{"m":"m = 5","x":2.1752e-6,"y":3.734},{"m":"m = 5","x":2.1135e-6,"y":3.734},{"m":"m = 5","x":2.0535e-6,"y":3.734},{"m":"m = 5","x":1.9953e-6,"y":3.734},{"m":"m = 5","x":1.9386e-6,"y":3.734},{"m":"m = 5","x":1.8836e-6,"y":3.734},{"m":"m = 5","x":1.8302e-6,"y":3.734},{"m":"m = 5","x":1.7783e-6,"y":3.734},{"m":"m = 5","x":1.7278e-6,"y":3.734},{"m":"m = 5","x":1.6788e-6,"y":3.734},{"m":"m = 5","x":1.6312e-6,"y":3.734},{"m":"m = 5","x":1.5849e-6,"y":3.734},{"m":"m = 5","x":1.5399e-6,"y":3.734},{"m":"m = 5","x":1.4962e-6,"y":3.734},{"m":"m = 5","x":1.4538e-6,"y":3.734},{"m":"m = 5","x":1.4125e-6,"y":3.734},{"m":"m = 5","x":1.3725e-6,"y":3.734},{"m":"m = 5","x":1.3335e-6,"y":3.734},{"m":"m = 5","x":1.2957e-6,"y":3.734},{"m":"m = 5","x":1.2589e-6,"y":3.734},{"m":"m = 5","x":1.2232e-6,"y":3.734},{"m":"m = 5","x":1.1885e-6,"y":3.734},{"m":"m = 5","x":1.1548e-6,"y":3.734},{"m":"m = 5","x":1.122e-6,"y":3.734},{"m":"m = 5","x":1.0902e-6,"y":3.734},{"m":"m = 5","x":1.0593e-6,"y":3.734},{"m":"m = 5","x":1.0292e-6,"y":3.734},{"m":"m = 5","x":1e-6,"y":3.734}
]},
"data": {"name": "pts"},
"layer": [
 {
  "mark": {"type": "line", "strokeWidth": 1},
  "encoding": {
   "x": {"field": "x", "type": "quantitative", "scale": {"type": "log", "domain": [1e-6, 1e-2]},
         "axis": {"orient": "bottom", "values": [2e-6,3e-6,4e-6,5e-6,6e-6,7e-6,8e-6,9e-6,2e-5,3e-5,4e-5,5e-5,6e-5,7e-5,8e-5,9e-5,2e-4,3e-4,4e-4,5e-4,6e-4,7e-4,8e-4,9e-4,2e-3,3e-3,4e-3,5e-3,6e-3,7e-3,8e-3,9e-3], "labels": false, "tickSize": -4, "title": null}},
   "y": {"field": "y", "type": "quantitative", "scale": {"domain": [3, 5]},
         "axis": {"orient": "left", "values": [3.1,3.2,3.3,3.4,3.6,3.7,3.8,3.9,4.1,4.2,4.3,4.4,4.6,4.7,4.8,4.9], "labels": false, "tickSize": -4, "title": null}},
   "color": {"field": "m", "type": "nominal", "scale": {"domain": ["m = 1","m = 2","m = 3","m = 4","m = 5"], "range": ["#0000ff","#ff0000","#008b00","#ffa500","#9400d3"]}, "legend": null}
  }
 },
 {
  "mark": {"type": "point", "filled": false, "size": 50, "strokeWidth": 1, "opacity": 1},
  "encoding": {
   "x": {"field": "x", "type": "quantitative", "scale": {"type": "log", "domain": [1e-6, 1e-2]},
         "axis": {"orient": "bottom", "values": [1e-6,1e-5,1e-4,1e-3,1e-2], "tickSize": -8, "labelPadding": 14,
                  "labelExpr": "datum.value < 3e-6 ? '10⁻⁶' : datum.value < 3e-5 ? '10⁻⁵' : datum.value < 3e-4 ? '10⁻⁴' : datum.value < 3e-3 ? '10⁻³' : '10⁻²'",
                  "title": "𝑁⁻²", "titlePadding": 1}},
   "y": {"field": "y", "type": "quantitative", "scale": {"domain": [3, 5]},
         "axis": {"orient": "left", "values": [3,3.5,4,4.5,5], "format": ".1f", "tickSize": -8, "labelPadding": 11,
                  "title": "𝑁² [ 𝑒⁽ᴺ⁾ₚʙᴄ - 𝑒⁽ᴺ⁾ₛᵢₙₑ ]", "titlePadding": 7}},
   "color": {"field": "m", "type": "nominal", "scale": {"domain": ["m = 1","m = 2","m = 3","m = 4","m = 5"], "range": ["#0000ff","#ff0000","#008b00","#ffa500","#9400d3"]}, "legend": null},
   "shape": {"field": "m", "type": "nominal", "scale": {"domain": ["m = 1","m = 2","m = 3","m = 4","m = 5"], "range": ["circle","M-0.85,-0.85L0.85,0.85M0.85,-0.85L-0.85,0.85","square","M0,-1L1.1,0.9L-1.1,0.9Z","M0,-1.2L1.2,0L0,1.2L-1.2,0Z"]}, "legend": null}
  }
 },
 {
  "transform": [{"filter": "false"}],
  "mark": {"type": "point", "filled": false, "opacity": 1},
  "encoding": {
   "x": {"field": "x", "type": "quantitative", "scale": {"type": "log", "domain": [1e-6, 1e-2]},
         "axis": {"orient": "top", "values": [1e-6,1e-5,1e-4,1e-3,1e-2], "labels": false, "tickSize": -8, "title": null}},
   "y": {"field": "y", "type": "quantitative", "scale": {"domain": [3, 5]},
         "axis": {"orient": "right", "values": [3,3.5,4,4.5,5], "labels": false, "tickSize": -8, "title": null}},
   "color": {"field": "m", "type": "nominal", "scale": {"domain": ["m = 1","m = 2","m = 3","m = 4","m = 5"], "range": ["#0000ff","#ff0000","#008b00","#ffa500","#9400d3"]},
             "legend": {"title": null, "orient": "none", "legendX": 258, "legendY": 25, "symbolSize": 169, "symbolStrokeWidth": 1, "labelFont": "Liberation Serif, DejaVu Serif, serif", "labelFontSize": 13.5, "labelColor": "black", "labelOffset": 11, "rowPadding": 0, "labelExpr": "'𝑚' + slice(datum.label, 1)"}},
   "shape": {"field": "m", "type": "nominal", "scale": {"domain": ["m = 1","m = 2","m = 3","m = 4","m = 5"], "range": [
      "M-0.17,0L-0.242,0.27L-0.44,0.468L-0.71,0.54L-0.98,0.468L-1.178,0.27L-1.25,0L-1.178,-0.27L-0.98,-0.468L-0.71,-0.54L-0.44,-0.468L-0.242,-0.27ZM1.25,0L1.178,0.27L0.98,0.468L0.71,0.54L0.44,0.468L0.242,0.27L0.17,0L0.242,-0.27L0.44,-0.468L0.71,-0.54L0.98,-0.468L1.178,-0.27ZM-0.17,0L0.17,0",
      "M-1.2,-0.45L-0.3,0.45M-1.2,0.45L-0.3,-0.45M0.3,-0.45L1.2,0.45M0.3,0.45L1.2,-0.45M-0.75,0L0.75,0",
      "M-1.2,-0.45L-0.3,-0.45L-0.3,0.45L-1.2,0.45ZM0.3,-0.45L1.2,-0.45L1.2,0.45L0.3,0.45ZM-0.3,0L0.3,0",
      "M-0.72,-0.5L-0.25,0.4L-1.19,0.4ZM0.72,-0.5L1.19,0.4L0.25,0.4ZM-0.4,0.05L0.4,0.05",
      "M-1.25,0L-0.75,-0.5L-0.25,0L-0.75,0.5ZM0.25,0L0.75,-0.5L1.25,0L0.75,0.5ZM-0.25,0L0.25,0"]},
             "legend": {"title": null, "orient": "none", "legendX": 258, "legendY": 25, "symbolSize": 169, "symbolStrokeWidth": 1, "labelFont": "Liberation Serif, DejaVu Serif, serif", "labelFontSize": 13.5, "labelColor": "black", "labelOffset": 11, "rowPadding": 0, "labelExpr": "'𝑚' + slice(datum.label, 1)"}}
  }
 },
 {
  "transform": [{"filter": "false"}],
  "mark": {"type": "point", "opacity": 1},
  "encoding": {
   "x": {"field": "x", "type": "quantitative", "scale": {"type": "log", "domain": [1e-6, 1e-2]},
         "axis": {"orient": "top", "values": [2e-6,3e-6,4e-6,5e-6,6e-6,7e-6,8e-6,9e-6,2e-5,3e-5,4e-5,5e-5,6e-5,7e-5,8e-5,9e-5,2e-4,3e-4,4e-4,5e-4,6e-4,7e-4,8e-4,9e-4,2e-3,3e-3,4e-3,5e-3,6e-3,7e-3,8e-3,9e-3], "labels": false, "tickSize": -4, "title": null}},
   "y": {"field": "y", "type": "quantitative", "scale": {"domain": [3, 5]},
         "axis": {"orient": "right", "values": [3.1,3.2,3.3,3.4,3.6,3.7,3.8,3.9,4.1,4.2,4.3,4.4,4.6,4.7,4.8,4.9], "labels": false, "tickSize": -4, "title": null}}
  }
 }
],
"resolve": {"scale": {"color": "independent", "shape": "independent"}, "axis": {"x": "independent", "y": "independent"}}
}
